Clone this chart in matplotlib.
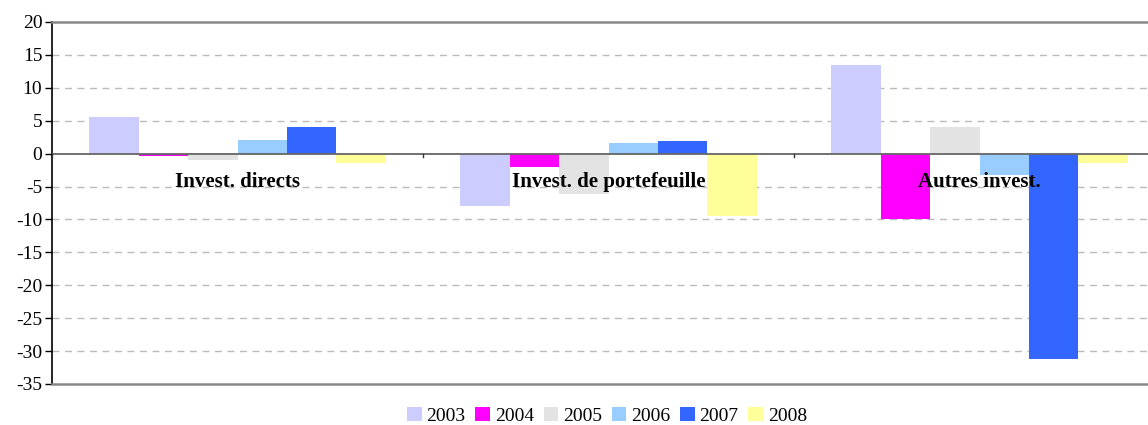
import numpy as np
import matplotlib.pyplot as plt
from matplotlib.patches import Patch

categories = ['Invest. directs', 'Invest. de portefeuille', 'Autres invest.']
years = ['2003', '2004', '2005', '2006', '2007', '2008']
v2003 = [5.5, -8.0, 13.4]
v2004 = [-0.3, -2.0, -9.9]
v2005 = [-1.0, -6.1, 4.0]
v2006 = [2.0, 1.6, -3.2]
v2007 = [4.0, 1.9, -31.2]
v2008 = [-1.4, -9.5, -1.4]
series = [v2003, v2004, v2005, v2006, v2007, v2008]
colors = ['#CCCCFF', '#FF00FF', '#E3E3E3', '#99CCFF', '#3366FF', '#FFFF99']

plt.rcParams['font.family'] = ['Liberation Serif', 'DejaVu Serif']
plt.rcParams['axes.unicode_minus'] = False

W, H = 1148, 425
fig = plt.figure(figsize=(W / 100, H / 100), dpi=100)
ax = fig.add_axes([52 / W, 1 - 384 / H, (1165 - 52) / W, (384 - 22) / H])

x = np.arange(len(categories))
bw = 0.8 / len(series)
for i, (vals, c) in enumerate(zip(series, colors)):
    ax.bar(x - 0.4 + bw * (i + 0.5), vals, width=bw, color=c, zorder=2,
           linewidth=0)

ax.set_xlim(-0.5, 2.5)
ax.set_ylim(-35, 20)
ax.set_yticks(np.arange(-35, 21, 5))
ax.tick_params(axis='y', labelsize=14, length=5, width=1, pad=2)
for t in np.arange(-30, 20, 5):
    if t != 0:
        ax.axhline(t, color='#BBBBBB', linestyle=(0, (5, 4)), linewidth=1, zorder=1)
ax.axhline(0, color='#666666', linewidth=1.3, zorder=3)

# category ticks on the zero line
for b in [-0.5, 0.5, 1.5]:
    ax.plot([b, b], [0, -0.5], color='#333333', linewidth=1, zorder=3)

for xi, name in zip(x, categories):
    ax.text(xi, -4.3, name, ha='center', va='center', fontsize=15,
            fontweight='bold', zorder=4)

ax.set_xticks([])
for s in ['top', 'bottom']:
    ax.spines[s].set_color('#888888')
    ax.spines[s].set_linewidth(1.8)
ax.spines['right'].set_visible(False)
ax.spines['left'].set_color('black')
ax.spines['left'].set_linewidth(1.2)

handles = [Patch(facecolor=c, edgecolor='none') for c in colors]
fig.legend(handles, years, loc='center', bbox_to_anchor=(607 / W, 1 - 416 / H),
           ncol=6, frameon=False, fontsize=14, handlelength=0.75, handleheight=0.75,
           handletextpad=0.25, columnspacing=0.5, borderaxespad=0)

fig.savefig('out.png', dpi=100)
